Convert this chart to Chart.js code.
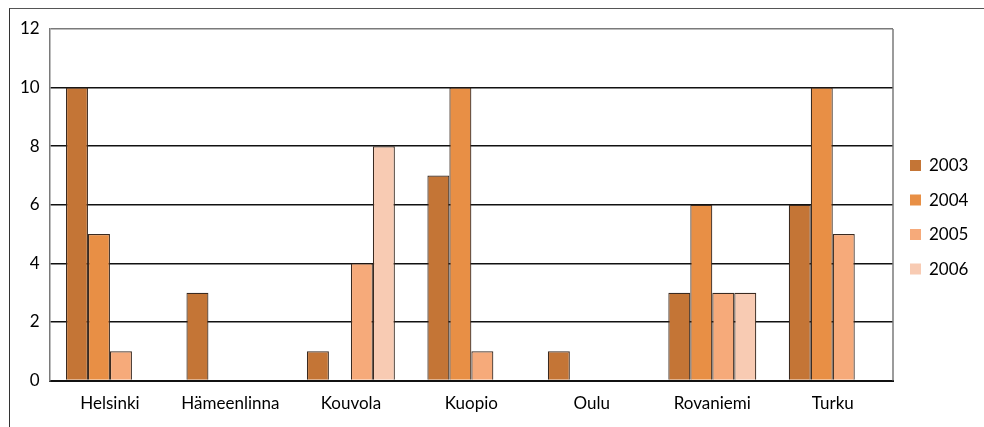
<!DOCTYPE html>
<html>
<head>
<meta charset="utf-8">
<script src="https://cdn.jsdelivr.net/npm/chart.js@4.4.0/dist/chart.umd.min.js"></script>
<style>
    html, body { margin: 0; padding: 0; background: #fff; }
    #wrap { position: relative; width: 984px; height: 427px; overflow: hidden; }
    #frame { position: absolute; left: 9px; top: 8px; width: 1000px; height: 500px;
             border-left: 1.5px solid #333; border-top: 1.5px solid #555; }
    canvas { position: absolute; left: 0; top: 0; }
</style>
</head>
<body>
<div id="wrap">
    <div id="frame"></div>
    <canvas id="chart" width="984" height="427"></canvas>
</div>
<script>
// Cities on the x axis
const cities = ['Helsinki', 'Hämeenlinna', 'Kouvola', 'Kuopio', 'Oulu', 'Rovaniemi', 'Turku'];

// One array per year
const years = ['2003', '2004', '2005', '2006'];
const values2003 = [10, 3, 1, 7, 1, 3, 6];
const values2004 = [5, 0, 0, 10, 0, 6, 10];
const values2005 = [1, 0, 4, 1, 0, 3, 5];
const values2006 = [0, 0, 8, 0, 0, 3, 0];

const yTicks = [0, 2, 4, 6, 8, 10, 12];

const colors = ['#c47536', '#e88f45', '#f6aa7a', '#f8cbb3'];
const FONT = 'Lato, "Open Sans", sans-serif';

// Draws the right border and the legend on the right side
const frameAndLegend = {
    id: 'frameAndLegend',
    beforeDatasetsDraw(chart) {
        const { ctx, chartArea } = chart;
        ctx.save();
        ctx.strokeStyle = '#7a7a7a';
        ctx.lineWidth = 1.5;
        ctx.beginPath();
        ctx.moveTo(chartArea.right, chartArea.top);
        ctx.lineTo(chartArea.right, chartArea.bottom);
        ctx.stroke();
        ctx.restore();
    },
    afterDraw(chart) {
        const { ctx } = chart;
        ctx.save();
        ctx.font = '17px ' + FONT;
        ctx.textBaseline = 'middle';
        chart.data.datasets.forEach((ds, i) => {
            const y = 165 + i * 34.5;
            ctx.fillStyle = ds.backgroundColor;
            ctx.fillRect(910, y - 5, 11, 11);
            ctx.fillStyle = '#000';
            ctx.fillText(ds.label, 929, y + 1);
        });
        ctx.restore();
    }
};

const seriesValues = [values2003, values2004, values2005, values2006];

new Chart(document.getElementById('chart').getContext('2d'), {
    type: 'bar',
    data: {
        labels: cities,
        datasets: years.map((year, i) => ({
            label: year,
            data: seriesValues[i],
            backgroundColor: colors[i],
            borderColor: '#3a2a20',
            borderWidth: 1.2,
            barPercentage: 1,
            categoryPercentage: 0.73
        }))
    },
    options: {
        responsive: false,
        animation: false,
        layout: { padding: { left: 10, top: 29, right: 91, bottom: 0 } },
        plugins: {
            legend: { display: false },
            tooltip: { enabled: false }
        },
        scales: {
            x: {
                grid: { display: false, drawTicks: false },
                border: { color: '#111', width: 2 },
                ticks: { color: '#000', font: { family: FONT, size: 17 }, padding: 13, maxRotation: 0 }
            },
            y: {
                min: 0,
                max: 12,
                afterBuildTicks: axis => { axis.ticks = yTicks.map(v => ({ value: v })); },
                grid: {
                    drawTicks: false,
                    color: c => c.tick && c.tick.value === 12 ? '#7a7a7a' : '#111',
                    lineWidth: c => c.tick && c.tick.value === 12 ? 1.5 : 1.6
                },
                border: { color: '#7a7a7a', width: 1.5 },
                ticks: { color: '#000', font: { family: FONT, size: 17 }, padding: 10 }
            }
        }
    },
    plugins: [frameAndLegend]
});
</script>
</body>
</html>
